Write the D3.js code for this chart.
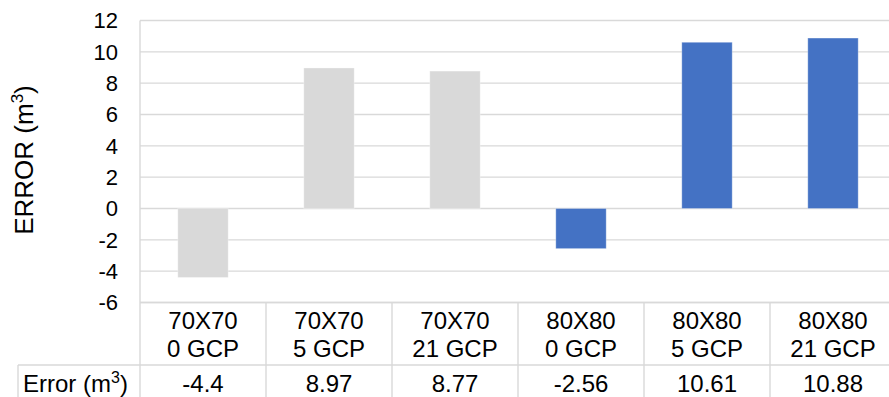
<!DOCTYPE html>
<html>
<head>
<meta charset="utf-8">
<script src="https://cdn.jsdelivr.net/npm/d3@7/dist/d3.min.js"></script>
<style>
  html, body { margin: 0; padding: 0; background: #fff; overflow: hidden; }
  svg { display: block; font-family: "Liberation Sans", Arial, sans-serif; }
</style>
</head>
<body>
<svg id="chart" width="889" height="397"></svg>
<script>
// ---- data ----
const gridSizes = ["70X70", "70X70", "70X70", "80X80", "80X80", "80X80"];
const gcpLabels = ["0 GCP", "5 GCP", "21 GCP", "0 GCP", "5 GCP", "21 GCP"];
const errorValues = [-4.4, 8.97, 8.77, -2.56, 10.61, 10.88];
const valueLabels = ["-4.4", "8.97", "8.77", "-2.56", "10.61", "10.88"];
const yTicks = [-6, -4, -2, 0, 2, 4, 6, 8, 10, 12];
const groupColors = { "70X70": "#d9d9d9", "80X80": "#4472c4" };

// ---- layout ----
const svg = d3.select("#chart");
const plotLeft = 140, plotRight = 896, plotTop = 20.5, plotBottom = 302.5;
const row1Bottom = 365, tableBottom = 398, tableLeft = 18;
const lineColor = "#d9d9d9";

const x = d3.scaleBand()
  .domain(d3.range(errorValues.length))
  .range([plotLeft, plotRight])
  .paddingInner(0.6)
  .paddingOuter(0.3);
const xb = d3.scaleBand().domain(d3.range(errorValues.length)).range([plotLeft, plotRight]);

const y = d3.scaleLinear().domain([-6, 12]).range([plotBottom, plotTop]);

// gridlines
svg.append("g").selectAll("line").data(yTicks).join("line")
  .attr("x1", plotLeft).attr("x2", plotRight)
  .attr("y1", d => y(d)).attr("y2", d => y(d))
  .attr("stroke", lineColor).attr("stroke-width", 1.4);

// y tick labels
svg.append("g").selectAll("text").data(yTicks).join("text")
  .attr("x", 118).attr("y", d => y(d))
  .attr("dy", "0.36em")
  .attr("text-anchor", "end")
  .attr("font-size", 22)
  .attr("fill", "#000")
  .text(d => d);

// y title
const title = svg.append("text")
  .attr("transform", "translate(33,160) rotate(-90)")
  .attr("text-anchor", "middle")
  .attr("font-size", 26)
  .attr("fill", "#000");
title.append("tspan").text("ERROR (m");
title.append("tspan").attr("font-size", 17).attr("dy", -10).text("3");
title.append("tspan").attr("dy", 10).text(")");

// bars
svg.append("g").selectAll("rect").data(errorValues).join("rect")
  .attr("x", (d, i) => x(i))
  .attr("width", x.bandwidth())
  .attr("y", d => y(Math.max(0, d)))
  .attr("height", d => Math.abs(y(d) - y(0)))
  .attr("fill", (d, i) => groupColors[gridSizes[i]])
  .attr("stroke", "rgba(255,255,255,0.3)")
  .attr("stroke-width", 1);

// table lines
const tl = svg.append("g").attr("stroke", lineColor).attr("stroke-width", 1.4);
tl.append("line").attr("x1", plotLeft).attr("x2", plotRight).attr("y1", plotBottom).attr("y2", plotBottom);
tl.append("line").attr("x1", tableLeft).attr("x2", plotRight).attr("y1", row1Bottom).attr("y2", row1Bottom);
tl.append("line").attr("x1", tableLeft).attr("x2", plotRight).attr("y1", tableBottom).attr("y2", tableBottom);
tl.append("line").attr("x1", tableLeft).attr("x2", tableLeft).attr("y1", row1Bottom).attr("y2", tableBottom);
tl.append("line").attr("x1", plotLeft).attr("x2", plotLeft).attr("y1", plotTop).attr("y2", tableBottom);
tl.selectAll(".vb").data(d3.range(errorValues.length)).join("line")
  .attr("x1", i => xb(i) + xb.bandwidth()).attr("x2", i => xb(i) + xb.bandwidth())
  .attr("y1", plotBottom).attr("y2", tableBottom);

// category labels
const cat = svg.append("g").attr("font-size", 24).attr("fill", "#000").attr("text-anchor", "middle");
cat.selectAll(".l1").data(gridSizes).join("text")
  .attr("x", (d, i) => xb(i) + xb.bandwidth() / 2).attr("y", 328.5).text(d => d);
cat.selectAll(".l2").data(gcpLabels).join("text")
  .attr("x", (d, i) => xb(i) + xb.bandwidth() / 2).attr("y", 356.5).text(d => d);
cat.selectAll(".l3").data(valueLabels).join("text")
  .attr("x", (d, i) => xb(i) + xb.bandwidth() / 2).attr("y", 391.5).text(d => d);

// row header
const rh = svg.append("text").attr("x", 23).attr("y", 391.5).attr("font-size", 24).attr("fill", "#000");
rh.append("tspan").text("Error (m");
rh.append("tspan").attr("font-size", 16).attr("dy", -9).text("3");
rh.append("tspan").attr("dy", 9).text(")");
</script>
</body>
</html>
